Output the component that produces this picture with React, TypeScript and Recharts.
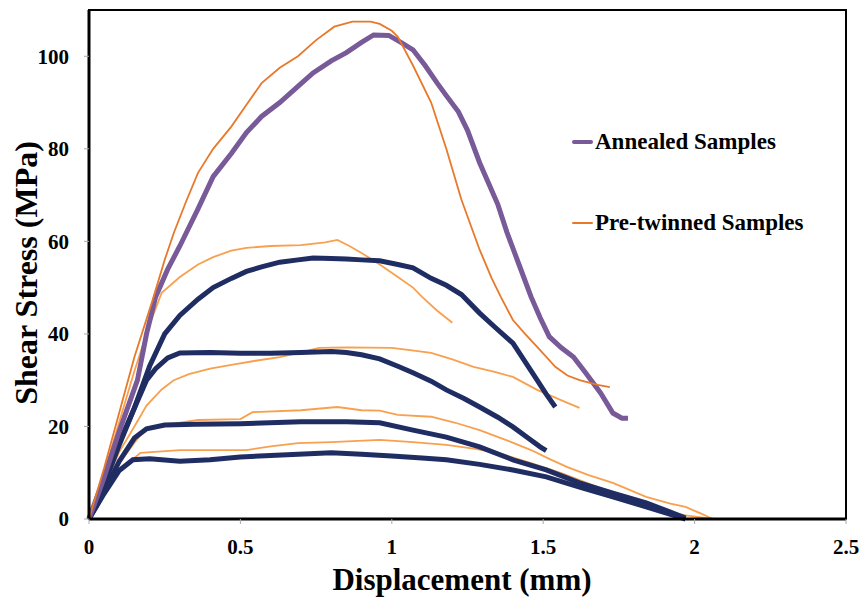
import {
  LineChart,
  Line,
  XAxis,
  YAxis,
  ReferenceArea,
} from 'recharts';

type Pt = { x: number; y: number };
const pts = (rows: number[][]): Pt[] => rows.map(([x, y]) => ({ x, y }));

const xTicks = [0, 0.5, 1, 1.5, 2, 2.5];
const yTicks = [0, 20, 40, 60, 80, 100];

const annealedPeak105 = pts([
  [0, 0], [0.05, 9], [0.1, 19], [0.16, 30], [0.19, 40], [0.22, 48], [0.26, 54],
  [0.3, 59], [0.36, 67], [0.41, 74], [0.47, 79], [0.52, 83.5], [0.57, 87],
  [0.63, 90], [0.69, 93.5], [0.74, 96.4], [0.8, 99], [0.85, 100.8], [0.9, 103],
  [0.94, 104.6], [0.99, 104.5], [1.03, 103], [1.07, 101.4], [1.11, 98],
  [1.15, 94.2], [1.18, 91.5], [1.22, 88], [1.25, 84], [1.29, 77], [1.32, 72.5],
  [1.35, 68], [1.38, 62], [1.42, 55], [1.46, 48], [1.49, 43.5],
  [1.52, 39.4], [1.56, 37], [1.6, 35], [1.64, 31.6], [1.69, 27.2], [1.73, 22.9],
  [1.76, 21.8], [1.78, 21.8],
]);

const annealedPeak56 = pts([
  [0, 0], [0.05, 7.5], [0.1, 16], [0.15, 24], [0.2, 33], [0.25, 40], [0.3, 44],
  [0.36, 47.5], [0.41, 50], [0.47, 52], [0.52, 53.5], [0.57, 54.5], [0.63, 55.5],
  [0.69, 56], [0.74, 56.4], [0.8, 56.3], [0.85, 56.2], [0.9, 56], [0.96, 55.8],
  [1.02, 55], [1.07, 54.3], [1.13, 52], [1.18, 50.5], [1.23, 48.5], [1.29, 44.5],
  [1.34, 41.5], [1.4, 38], [1.44, 34], [1.48, 30], [1.51, 27], [1.54, 24.2],
]);

const annealedPeak36 = pts([
  [0, 0], [0.05, 8], [0.1, 16.5], [0.15, 24], [0.19, 30], [0.22, 32.5],
  [0.26, 34.8], [0.3, 35.9], [0.4, 36], [0.5, 35.8], [0.6, 35.8], [0.7, 36],
  [0.8, 36.2], [0.85, 36], [0.9, 35.5], [0.96, 34.6], [1.02, 33], [1.07, 31.6],
  [1.13, 29.8], [1.18, 27.9], [1.24, 26], [1.29, 24.2], [1.35, 22], [1.4, 19.9],
  [1.45, 17.5], [1.49, 15.6], [1.51, 14.8],
]);

const annealedPeak21 = pts([
  [0, 0], [0.05, 6], [0.1, 12.5], [0.15, 17.5], [0.19, 19.5], [0.25, 20.3],
  [0.35, 20.5], [0.5, 20.6], [0.7, 21], [0.85, 21], [0.96, 20.8], [1.07, 19.2],
  [1.18, 17.7], [1.29, 15.6], [1.4, 12.8], [1.51, 10.6], [1.62, 7.8],
  [1.73, 5.6], [1.84, 3.5], [1.92, 1.5], [1.97, 0.2],
]);

const annealedPeak14 = pts([
  [0, 0], [0.05, 5.5], [0.1, 10.5], [0.145, 12.8], [0.2, 13], [0.3, 12.5],
  [0.4, 12.8], [0.5, 13.4], [0.6, 13.7], [0.8, 14.3], [0.9, 14], [1.0, 13.6],
  [1.1, 13.2], [1.18, 12.8], [1.29, 11.8], [1.4, 10.6], [1.51, 9.1],
  [1.62, 6.9], [1.73, 4.8], [1.84, 2.6], [1.95, 0.4], [1.97, 0],
]);

const pretwinnedPeak108 = pts([
  [0, 0], [0.05, 11], [0.1, 23], [0.15, 35], [0.21, 47.3], [0.25, 56],
  [0.28, 61.8], [0.32, 68.5], [0.36, 74.8], [0.41, 80], [0.47, 84.8],
  [0.52, 89.5], [0.57, 94.2], [0.63, 97.5], [0.69, 100], [0.75, 103.5],
  [0.81, 106.4], [0.87, 107.5], [0.93, 107.5], [0.96, 107], [1.0, 105.5],
  [1.02, 104.2], [1.07, 98], [1.13, 90], [1.18, 80], [1.23, 69],
  [1.29, 58.2], [1.33, 52], [1.36, 48], [1.4, 43], [1.44, 40], [1.48, 37.2],
  [1.54, 32.9], [1.58, 31], [1.62, 30], [1.68, 29], [1.72, 28.5],
]);

const pretwinnedPeak60 = pts([
  [0, 0], [0.05, 10], [0.1, 21], [0.15, 32], [0.2, 42], [0.24, 48.9],
  [0.3, 52.3], [0.36, 55], [0.41, 56.6], [0.47, 58], [0.52, 58.6], [0.6, 59],
  [0.7, 59.2], [0.78, 59.8], [0.82, 60.3], [0.86, 59], [0.9, 57.5], [0.96, 55],
  [1.02, 52.3], [1.07, 50], [1.1, 48], [1.15, 45], [1.2, 42.4],
]);

const pretwinnedPeak37 = pts([
  [0, 0], [0.05, 7], [0.1, 14.5], [0.15, 20], [0.19, 24.5], [0.24, 28],
  [0.28, 30], [0.33, 31.3], [0.4, 32.5], [0.47, 33.3], [0.55, 34.2], [0.63, 35],
  [0.7, 36], [0.76, 37], [0.85, 37.1], [1.0, 37], [1.06, 36.5], [1.13, 35.9],
  [1.2, 34.5], [1.27, 32.9], [1.34, 31.8], [1.4, 30.7], [1.48, 27.9],
  [1.53, 26.5], [1.58, 25.1], [1.62, 24],
]);

const pretwinnedPeak24 = pts([
  [0, 0], [0.05, 6], [0.1, 12], [0.15, 16.5], [0.18, 19], [0.22, 20],
  [0.36, 21.4], [0.5, 21.6], [0.54, 23.1], [0.7, 23.5], [0.82, 24.2], [0.9, 23.5],
  [0.96, 23.4], [1.02, 22.5], [1.13, 22.1], [1.21, 20.8], [1.29, 19.2],
  [1.38, 17], [1.46, 14.9], [1.52, 13], [1.58, 11.2], [1.65, 9.5], [1.73, 7.8],
  [1.84, 4.8], [1.92, 3.3], [1.97, 2.6], [2.02, 1.2], [2.06, 0],
]);

const pretwinnedPeak17 = pts([
  [0, 0], [0.05, 5.5], [0.1, 10.5], [0.17, 14.3], [0.3, 14.9], [0.52, 14.9],
  [0.6, 15.7], [0.69, 16.4], [0.8, 16.6], [0.96, 17.1], [1.07, 16.6], [1.18, 16],
  [1.27, 15.2], [1.35, 14.3], [1.46, 12.1], [1.56, 9.9], [1.68, 6.9],
  [1.79, 4.1], [1.89, 1.9], [1.97, 0.8], [2.04, 0.2], [2.07, 0],
]);

const PURPLE = '#785a98';
const NAVY = '#1f2d63';
const ORANGE = '#e8792a';
const LIGHT_ORANGE = '#f8a04e';

const font = '"Liberation Serif", "Times New Roman", serif';

function LegendBox() {
  const item = (color: string, w: number, label: string, top: number) => (
    <div style={{ position: 'absolute', left: 0, top, display: 'flex', alignItems: 'center' }}>
      <div style={{ width: 21, height: w, background: color, borderRadius: 2, marginRight: 2 }} />
      <span style={{ fontFamily: font, fontWeight: 'bold', fontSize: 23, color: '#000', whiteSpace: 'nowrap' }}>
        {label}
      </span>
    </div>
  );
  return (
    <div style={{ position: 'absolute', left: 572, top: 129, width: 280, height: 110 }}>
      {item(PURPLE, 4, 'Annealed Samples', 0)}
      {item(ORANGE, 2, 'Pre-twinned Samples', 81)}
    </div>
  );
}

export default function App() {
  const thick = { strokeWidth: 5, dot: false, isAnimationActive: false };
  const thin = { strokeWidth: 1.8, dot: false, isAnimationActive: false };
  return (
    <div style={{ position: 'absolute', left: 0, top: 0, width: 860, height: 599, background: '#fff' }}>
      <LineChart width={860} height={599} margin={{ top: 10, right: 14, bottom: 0, left: 0 }}>
        <XAxis
          type="number"
          dataKey="x"
          domain={[0, 2.5]}
          ticks={xTicks}
          height={80}
          tick={{ fontFamily: font, fontWeight: 'bold', fontSize: 21, fill: '#000' }}
          tickLine={{ stroke: '#aaa' }}
          tickSize={5}
          tickMargin={15}
          axisLine={{ stroke: '#000', strokeWidth: 3 }}
          label={{
            content: () => (
              <text x={462} y={590} textAnchor="middle" fontFamily={font} fontWeight="bold" fontSize={31} fill="#000">
                Displacement (mm)
              </text>
            ),
          }}
        />
        <YAxis
          type="number"
          dataKey="y"
          domain={[0, 110]}
          ticks={yTicks}
          width={89}
          tick={{ fontFamily: font, fontWeight: 'bold', fontSize: 21, fill: '#000' }}
          tickLine={{ stroke: '#aaa' }}
          tickSize={5}
          tickMargin={15}
          axisLine={{ stroke: '#000', strokeWidth: 3 }}
          label={{
            content: () => (
              <text
                x={37}
                y={273}
                transform="rotate(-90 37 273)"
                textAnchor="middle"
                fontFamily={font}
                fontWeight="bold"
                fontSize={32}
                fill="#000"
              >
                Shear Stress (MPa)
              </text>
            ),
          }}
        />
        <ReferenceArea x1={0} x2={2.5} y1={0} y2={110} fill="none" stroke="#000" strokeWidth={2} ifOverflow="visible" />
        <Line data={pretwinnedPeak60} dataKey="y" stroke={LIGHT_ORANGE} {...thin} />
        <Line data={pretwinnedPeak37} dataKey="y" stroke={LIGHT_ORANGE} {...thin} />
        <Line data={pretwinnedPeak24} dataKey="y" stroke={LIGHT_ORANGE} {...thin} />
        <Line data={pretwinnedPeak17} dataKey="y" stroke={LIGHT_ORANGE} {...thin} />
        <Line data={annealedPeak56} dataKey="y" stroke={NAVY} {...thick} />
        <Line data={annealedPeak36} dataKey="y" stroke={NAVY} {...thick} />
        <Line data={annealedPeak21} dataKey="y" stroke={NAVY} {...thick} />
        <Line data={annealedPeak14} dataKey="y" stroke={NAVY} {...thick} />
        <Line data={annealedPeak105} dataKey="y" stroke={PURPLE} {...thick} />
        <Line data={pretwinnedPeak108} dataKey="y" stroke={ORANGE} {...thin} />
      </LineChart>
      <LegendBox />
    </div>
  );
}
